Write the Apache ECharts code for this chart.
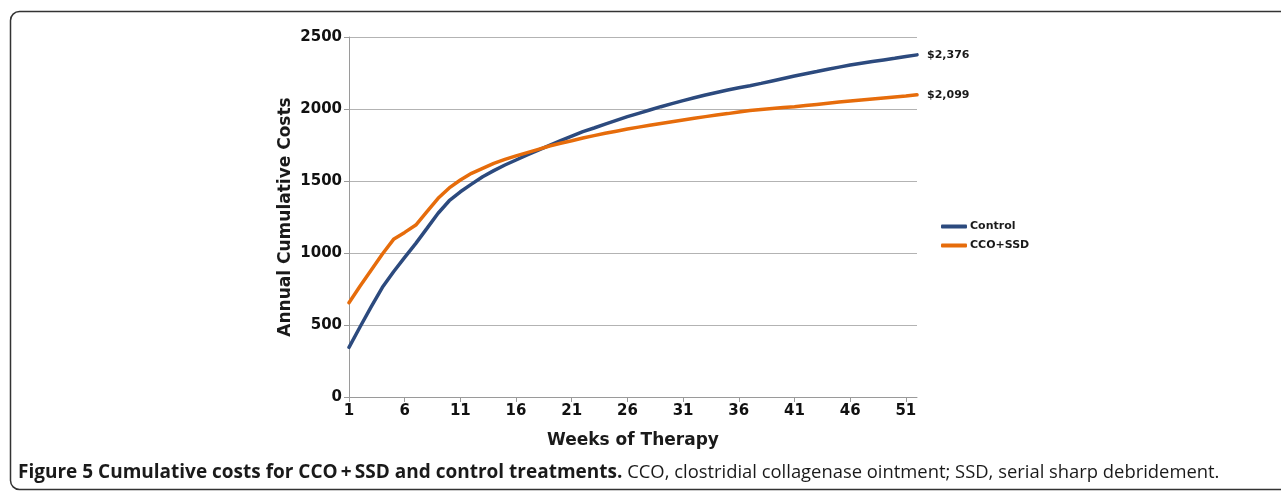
<!DOCTYPE html>
<html>
<head>
<meta charset="utf-8">
<script src="https://cdn.jsdelivr.net/npm/echarts@6/dist/echarts.min.js"></script>
<style>
html,body{margin:0;padding:0;background:#fff;}
#chart{width:1281px;height:493px;}
</style>
</head>
<body>
<div id="chart"></div>
<script>
const weeks = Array.from({length: 52}, (_, i) => String(i + 1));
const controlCosts = [
  345, 488, 627, 762, 870, 970, 1067, 1171, 1276, 1363,
  1425, 1478, 1530, 1572, 1611, 1646, 1681, 1715, 1748, 1780,
  1812, 1843, 1868, 1895, 1921, 1947, 1970, 1993, 2016, 2037,
  2058, 2078, 2097, 2115, 2132, 2148, 2162, 2178, 2195, 2212,
  2229, 2245, 2260, 2276, 2291, 2306, 2318, 2330, 2341, 2352,
  2364, 2376
];
const ccoSsdCosts = [
  655, 771, 882, 993, 1095, 1143, 1194, 1287, 1380, 1452,
  1507, 1553, 1588, 1623, 1650, 1674, 1697, 1720, 1743, 1762,
  1780, 1799, 1815, 1831, 1846, 1861, 1874, 1887, 1900, 1912,
  1924, 1936, 1947, 1958, 1968, 1979, 1989, 1996, 2003, 2010,
  2016, 2024, 2032, 2040, 2048, 2056, 2063, 2070, 2077, 2084,
  2091, 2099
];
const seriesNames = ['Control', 'CCO+SSD'];
const xAxisTitle = 'Weeks of Therapy';
const yAxisTitle = 'Annual Cumulative Costs';
const captionBold = 'Figure 5 Cumulative costs for CCO\u2009+\u2009SSD and control treatments.';
const captionNormal = ' CCO, clostridial collagenase ointment; SSD, serial sharp debridement.';

const chart = echarts.init(document.getElementById('chart'), null, {renderer: 'canvas'});
const FONT = 'DejaVu Sans';
const colors = ['#2c4a7e', '#e66c0b'];

function endFmt(p) {
  return '$' + Number(p.value).toLocaleString('en-US');
}

chart.setOption({
  animation: false,
  backgroundColor: '#fff',
  grid: {left: 349, right: 364, top: 37, bottom: 96, containLabel: false},
  legend: {
    orient: 'vertical',
    left: 936,
    top: 216,
    itemGap: 8,
    itemWidth: 26,
    itemHeight: 4,
    icon: 'roundRect',
    data: seriesNames,
    textStyle: {fontFamily: FONT, fontWeight: 'bold', fontSize: 11, color: '#1a1a1a', padding: [0, 0, 0, -2]}
  },
  xAxis: {
    type: 'category',
    data: weeks,
    boundaryGap: false,
    name: xAxisTitle,
    nameLocation: 'middle',
    nameGap: 35,
    nameTextStyle: {fontFamily: FONT, fontWeight: 'bold', fontSize: 17, color: '#1a1a1a'},
    axisLine: {lineStyle: {color: '#9a9a9a', width: 1}},
    axisTick: {show: true, interval: 4, length: 5, lineStyle: {color: '#9a9a9a'}},
    axisLabel: {interval: 4, fontFamily: FONT, fontWeight: 'bold', fontSize: 15, color: '#111', margin: 7},
    splitLine: {show: false}
  },
  yAxis: {
    type: 'value',
    min: 0,
    max: 2500,
    interval: 500,
    name: yAxisTitle,
    nameLocation: 'middle',
    nameGap: 55,
    nameTextStyle: {fontFamily: FONT, fontWeight: 'bold', fontSize: 17, color: '#1a1a1a'},
    axisLine: {show: true, lineStyle: {color: '#9a9a9a', width: 1}},
    axisTick: {show: true, length: 5, lineStyle: {color: '#9a9a9a'}},
    axisLabel: {formatter: v => String(v), fontFamily: FONT, fontWeight: 'bold', fontSize: 15, color: '#111', margin: 7},
    splitLine: {lineStyle: {color: '#b3b3b3', width: 1}}
  },
  series: [
    {
      name: seriesNames[0],
      type: 'line',
      data: controlCosts,
      showSymbol: false,
      symbol: 'none',
      lineStyle: {color: colors[0], width: 3.5, cap: 'round'},
      itemStyle: {color: colors[0]},
      endLabel: {show: true, formatter: endFmt, distance: 10, fontFamily: FONT, fontWeight: 'bold', fontSize: 11, color: '#1a1a1a'},
      z: 3
    },
    {
      name: seriesNames[1],
      type: 'line',
      data: ccoSsdCosts,
      showSymbol: false,
      symbol: 'none',
      lineStyle: {color: colors[1], width: 3.5, cap: 'round'},
      itemStyle: {color: colors[1]},
      endLabel: {show: true, formatter: endFmt, distance: 10, fontFamily: FONT, fontWeight: 'bold', fontSize: 11, color: '#1a1a1a'},
      z: 4
    }
  ],
  graphic: [
    {
      type: 'rect',
      shape: {x: 10.5, y: 11.5, width: 1300, height: 478, r: 9},
      style: {fill: 'none', stroke: '#333', lineWidth: 1.5},
      silent: true
    },
    {
      type: 'text',
      left: 18,
      top: 463,
      style: {
        text: '{b|' + captionBold + '}{n|' + captionNormal + '}',
        rich: {
          b: {fontFamily: 'Open Sans', fontWeight: 'bold', fontSize: 19, fill: '#1a1a1a'},
          n: {fontFamily: 'Open Sans', fontWeight: 'normal', fontSize: 18.4, fill: '#1a1a1a'}
        }
      },
      silent: true
    }
  ]
});
</script>
</body>
</html>
